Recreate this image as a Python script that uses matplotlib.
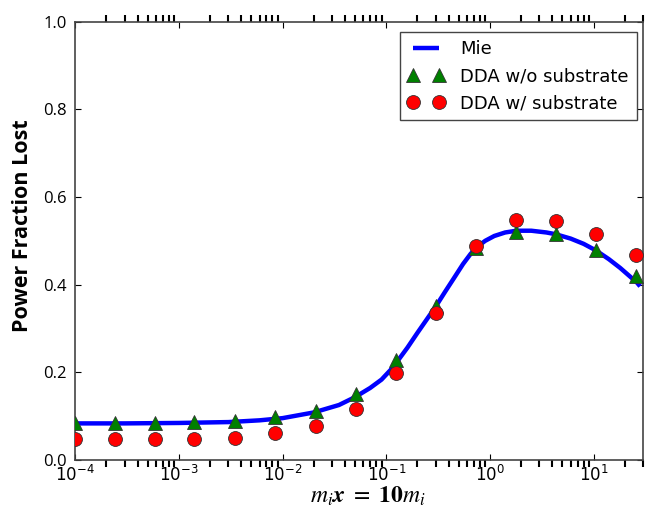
import matplotlib
matplotlib.use("Agg")
import matplotlib.pyplot as plt
from matplotlib.ticker import LogLocator, NullFormatter

# Data
dda_x = [1.0e-4, 2.4e-4, 5.9e-4, 1.4e-3, 3.5e-3, 8.5e-3, 2.1e-2, 5.1e-2,
         0.124, 0.30, 0.73, 1.8, 4.3, 10.5, 25.6]
dda_no_sub = [0.085, 0.085, 0.085, 0.086, 0.088, 0.097, 0.111, 0.150,
              0.228, 0.352, 0.484, 0.521, 0.515, 0.480, 0.419]
dda_sub = [0.047, 0.047, 0.047, 0.048, 0.050, 0.060, 0.077, 0.115,
           0.198, 0.335, 0.489, 0.548, 0.545, 0.516, 0.467]

mie_x = [1e-4, 3e-4, 1e-3, 3e-3, 6e-3, 1e-2, 2e-2, 3.5e-2, 5e-2, 7e-2,
         0.09, 0.11, 0.13, 0.16, 0.2, 0.25, 0.3, 0.37, 0.45, 0.55, 0.65,
         0.75, 0.9, 1.1, 1.4, 1.8, 2.5, 3.5, 4.3, 6.0, 8.0, 10.5, 14.0,
         18.0, 22.0, 26.0, 28.0]
mie_y = [0.083, 0.083, 0.084, 0.086, 0.090, 0.095, 0.108, 0.125, 0.143, 0.164,
         0.183, 0.205, 0.227, 0.256, 0.290, 0.323, 0.350, 0.384, 0.415, 0.447,
         0.470, 0.486, 0.500, 0.511, 0.519, 0.523, 0.523, 0.519, 0.515, 0.505,
         0.493, 0.478, 0.458, 0.438, 0.420, 0.405, 0.396]

fig = plt.figure(figsize=(6.53, 5.08), dpi=100)
ax = fig.add_axes([0.115, 0.095, 0.870, 0.862])

ax.plot(mie_x, mie_y, color='b', lw=3.2, label='Mie', zorder=2,
        solid_capstyle='butt')
ax.plot(dda_x, dda_no_sub, ls='none', marker='^', ms=10, mfc='green',
        mec='#333333', mew=0.6, label='DDA w/o substrate', zorder=3)
ax.plot(dda_x, dda_sub, ls='none', marker='o', ms=10, mfc='red',
        mec='#333333', mew=0.6, label='DDA w/ substrate', zorder=4)

ax.set_xscale('log')
ax.set_xlim(1e-4, 30)
ax.set_ylim(0, 1.0)
ax.set_yticks([0.0, 0.2, 0.4, 0.6, 0.8, 1.0])

ax.xaxis.set_minor_locator(LogLocator(base=10, subs=range(2, 10), numticks=20))
ax.xaxis.set_minor_formatter(NullFormatter())
ax.tick_params(which='major', direction='in', top=True, right=True,
               length=4, width=0.8, labelsize=12)
ax.tick_params(axis='y', which='major', pad=6)
ax.tick_params(axis='x', which='major', pad=4)
ax.tick_params(which='minor', direction='out', top=True, length=5, width=1.5)

for lab in ax.get_yticklabels():
    lab.set_family('Open Sans')

for s in ax.spines.values():
    s.set_color('#444444')
    s.set_linewidth(1.2)

ax.set_ylabel('Power Fraction Lost', fontsize=15.5, fontweight='bold',
              family='Open Sans')
ax.yaxis.set_label_coords(-0.074, 0.535)
ax.set_xlabel(r'$\boldsymbol{m_i x}\ =\ \mathbf{10}\boldsymbol{m_i}$',
              fontsize=17, math_fontfamily='stix', labelpad=0)
ax.xaxis.set_label_coords(0.515, -0.099)
ax.xaxis.label.set_verticalalignment('baseline')

leg = ax.legend(loc='upper right', bbox_to_anchor=(637 / 653, 1 - 32 / 508),
                bbox_transform=fig.transFigure, borderaxespad=0,
                numpoints=2, fontsize=13, fancybox=False,
                framealpha=1, edgecolor='#444444',
                handlelength=2.0, handletextpad=0.9, borderpad=0.45,
                labelspacing=0.5)
leg.get_frame().set_linewidth(1.0)

fig.savefig('out.png', dpi=100)
